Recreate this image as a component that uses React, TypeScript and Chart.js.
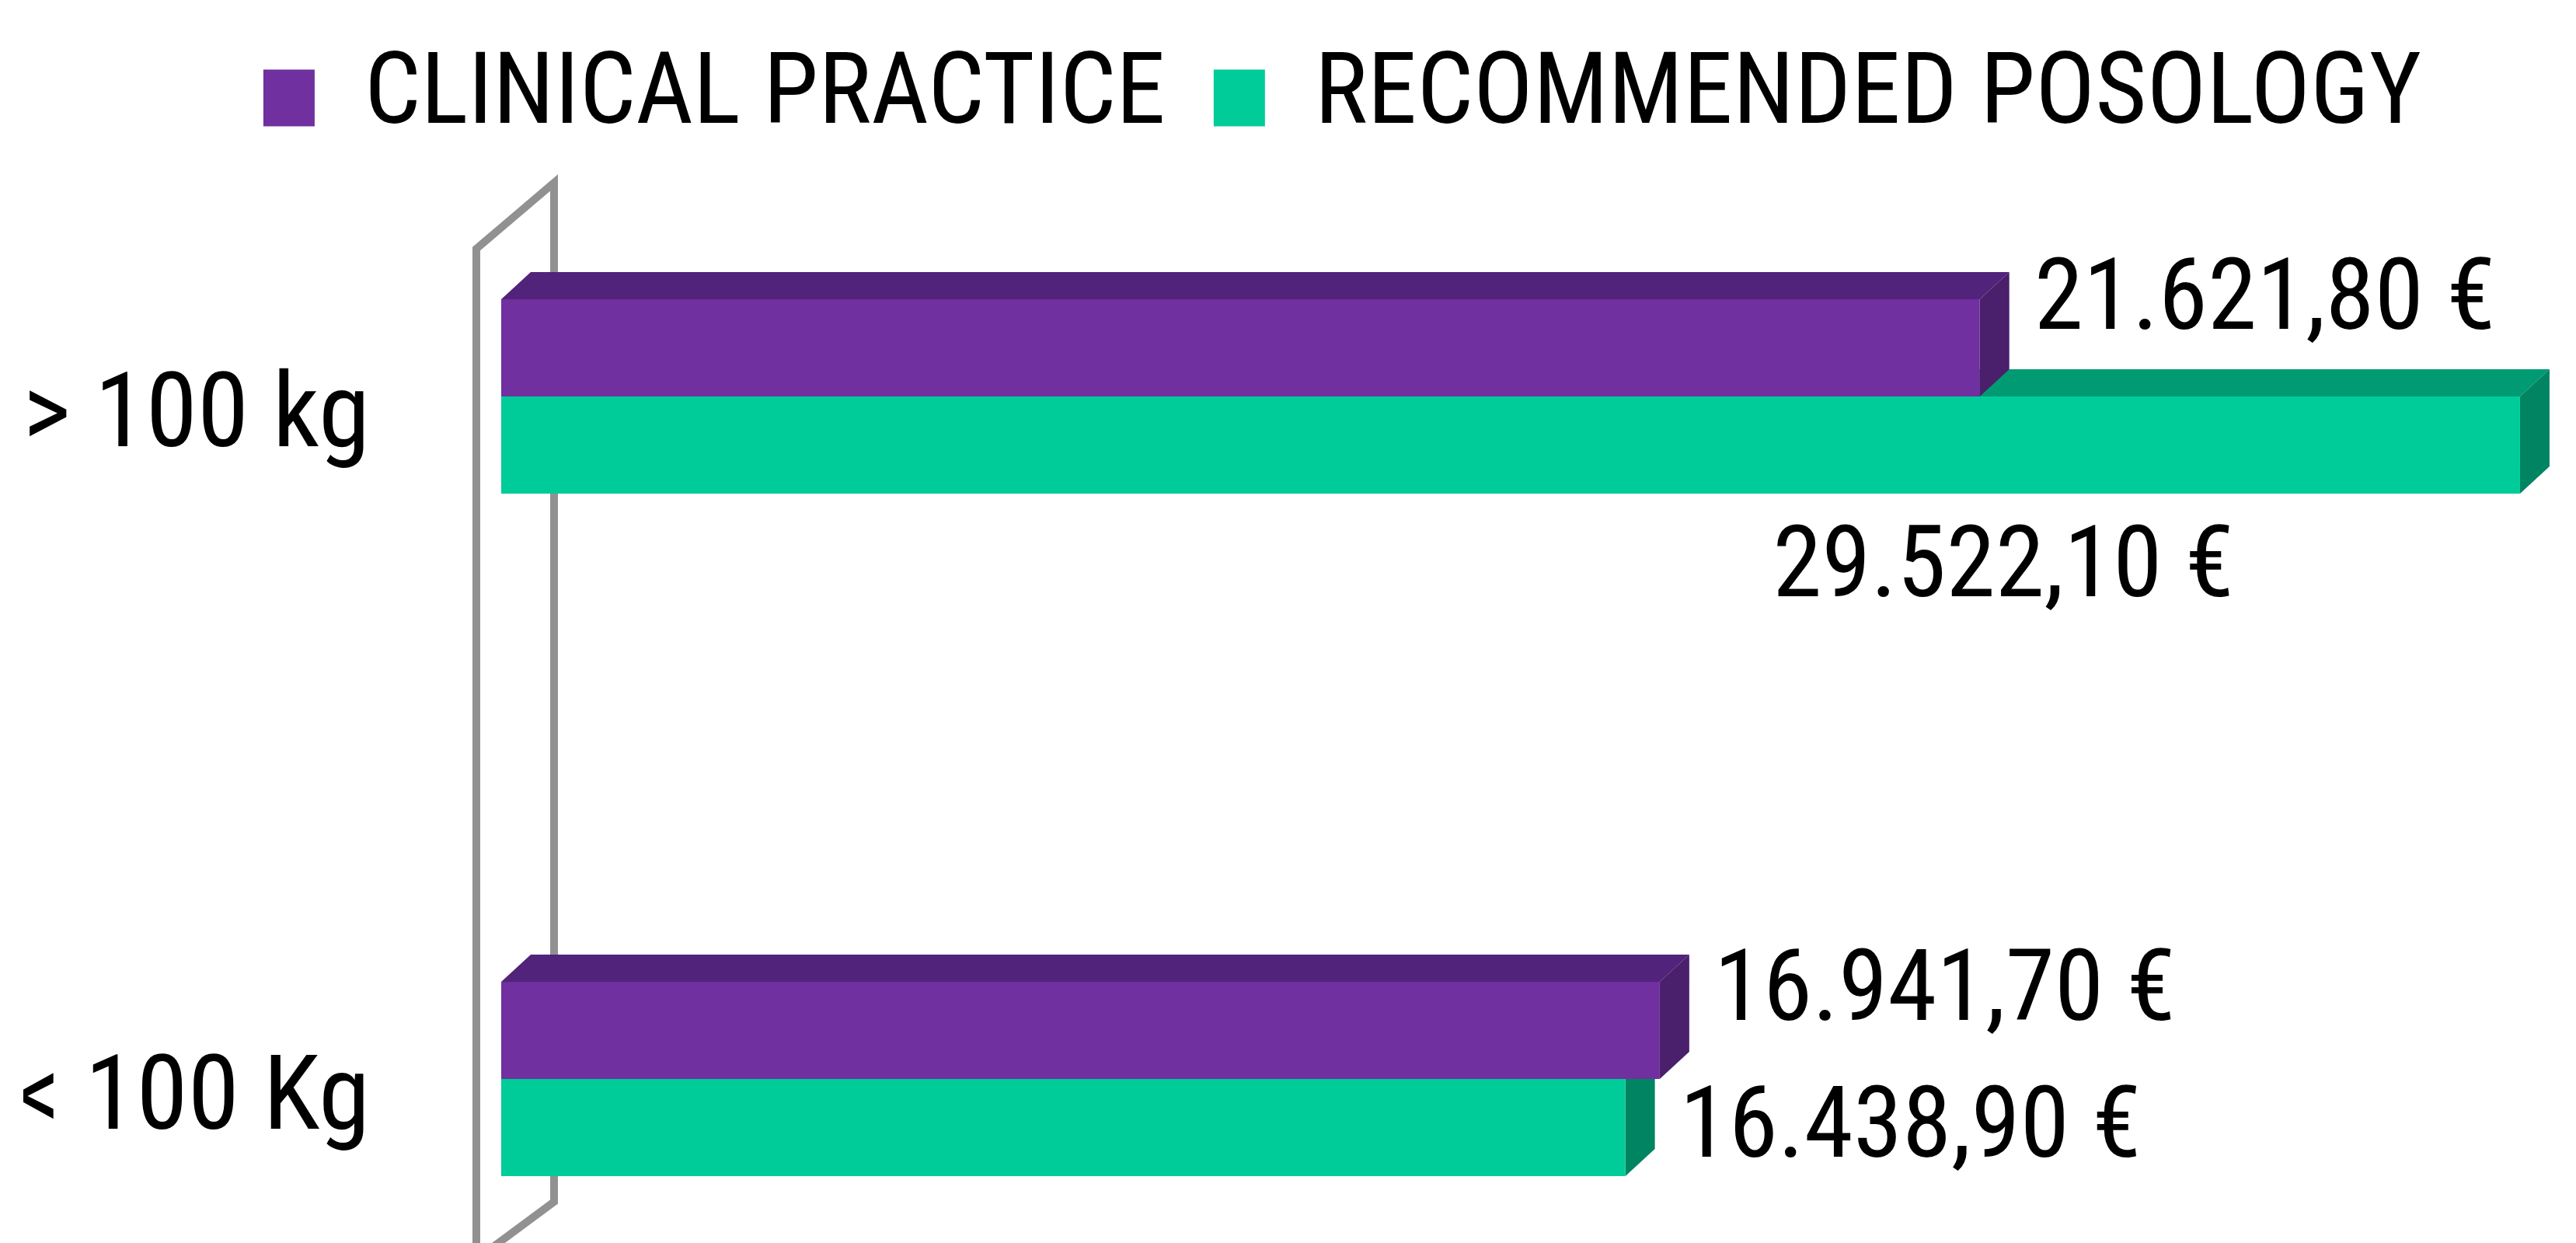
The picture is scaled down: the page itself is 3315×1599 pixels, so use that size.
import React, { useEffect, useRef } from 'react';
import { Chart, registerables } from 'chart.js';

Chart.register(...registerables);

// ---- data ----
const categories = ['> 100 kg', '< 100 Kg'];
const seriesNames = ['CLINICAL PRACTICE', 'RECOMMENDED POSOLOGY'];
const clinicalPractice = [21621.8, 16941.7];
const recommendedPosology = [29522.1, 16438.9];
const xMin = 0;
const xMax = 30000;

// ---- style ----
const FONT = "'Roboto Condensed', 'DejaVu Sans Condensed', sans-serif";
const frontColors = ['#7030A0', '#00CC99'];
const topColors = ['#52237A', '#009B73'];
const sideColors = ['#4A1F6C', '#008462'];
const DX = 38;
const DY = 35;

const W = 3315;
const H = 1599;
const PAD_LEFT = 30;
const PAD_RIGHT = 30;
const AREA_LEFT = 645;
const AREA_TOP = 510;
const AREA_BOTTOM = 1388;
const LEGEND_FONT = 128;
const LEGEND_PAD = 62;
const LEGEND_SHIFT = 70;
const VALUE_FONT = 128;
const TICK_FONT = 134;

function fmt(v: number): string {
  const [i, d] = v.toFixed(2).split('.');
  const g = i.replace(/\B(?=(\d{3})+(?!\d))/g, '.');
  return `${g},${d} €`;
}

const legendShiftPlugin = {
  id: 'legendShift',
  afterLayout(chart: any) {
    if (chart.legend) {
      chart.legend.left += LEGEND_SHIFT;
      chart.legend.right += LEGEND_SHIFT;
    }
  },
};

const wallPlugin = {
  id: 'wall3d',
  beforeDatasetsDraw(chart: any) {
    const { ctx, chartArea } = chart;
    const { left, top, bottom } = chartArea;
    ctx.save();
    ctx.strokeStyle = '#919191';
    ctx.lineWidth = 10;
    ctx.lineJoin = 'miter';
    ctx.beginPath();
    ctx.moveTo(left - 32, bottom + 232);
    ctx.lineTo(left - 32, top - 190);
    ctx.lineTo(left + 68, top - 275);
    ctx.lineTo(left + 68, bottom + 158);
    ctx.closePath();
    ctx.stroke();

    // 3D faces: second series first, then first series
    [1, 0].forEach((di) => {
      const meta = chart.getDatasetMeta(di);
      meta.data.forEach((el: any) => {
        const { x, y, base, height } = el.getProps(['x', 'y', 'base', 'height'], true);
        const t = y - height / 2;
        const b = y + height / 2;
        const x0 = Math.min(base, x);
        const x1 = Math.max(base, x);
        ctx.fillStyle = topColors[di];
        ctx.beginPath();
        ctx.moveTo(x0, t);
        ctx.lineTo(x1, t);
        ctx.lineTo(x1 + DX, t - DY);
        ctx.lineTo(x0 + DX, t - DY);
        ctx.closePath();
        ctx.fill();
        ctx.fillStyle = sideColors[di];
        ctx.beginPath();
        ctx.moveTo(x1, t);
        ctx.lineTo(x1 + DX, t - DY);
        ctx.lineTo(x1 + DX, b - DY);
        ctx.lineTo(x1, b);
        ctx.closePath();
        ctx.fill();
      });
    });
    ctx.restore();
  },
};

const labelPlugin = {
  id: 'valueLabels',
  afterDatasetsDraw(chart: any) {
    const { ctx } = chart;
    ctx.save();
    ctx.font = `${VALUE_FONT}px ${FONT}`;
    ctx.fillStyle = '#000';
    ctx.textBaseline = 'middle';
    chart.data.datasets.forEach((ds: any, di: number) => {
      const meta = chart.getDatasetMeta(di);
      meta.data.forEach((el: any, i: number) => {
        const { x, y, height } = el.getProps(['x', 'y', 'height'], true);
        const text = fmt(ds.data[i]);
        if (di === 1 && i === 0) {
          // longest bar: label placed below the bar
          ctx.textAlign = 'right';
          ctx.fillText(text, x - 368, y + height / 2 + 100);
        } else {
          ctx.textAlign = 'left';
          const shift = di === 0 ? (i === 0 ? -56 : -45) : 5;
          ctx.fillText(text, x + DX + 32, y + shift);
        }
      });
    });
    ctx.restore();
  },
};

export default function App() {
  const ref = useRef<HTMLCanvasElement | null>(null);
  useEffect(() => {
    const canvas = ref.current;
    if (!canvas) return;
    const legendHeight = LEGEND_FONT + LEGEND_PAD + 10;
    const chart = new Chart(canvas, {
      type: 'bar',
      data: {
        labels: categories,
        datasets: [
          {
            label: seriesNames[0],
            data: clinicalPractice,
            backgroundColor: frontColors[0],
            borderWidth: 0,
            barPercentage: 1,
            categoryPercentage: 0.285,
            clip: false,
          },
          {
            label: seriesNames[1],
            data: recommendedPosology,
            backgroundColor: frontColors[1],
            borderWidth: 0,
            barPercentage: 1,
            categoryPercentage: 0.285,
            clip: false,
          },
        ],
      },
      options: {
        indexAxis: 'y',
        responsive: false,
        animation: false,
        events: [],
        layout: {
          padding: { left: PAD_LEFT, right: PAD_RIGHT, top: 0, bottom: H - AREA_BOTTOM },
        },
        plugins: {
          legend: {
            display: true,
            position: 'top',
            labels: {
              boxWidth: 66,
              boxHeight: 73,
              padding: LEGEND_PAD,
              color: '#000',
              font: { family: FONT, size: LEGEND_FONT },
            },
          },
          tooltip: { enabled: false },
        },
        scales: {
          x: {
            type: 'linear',
            position: 'top',
            min: xMin,
            max: xMax,
            grid: { display: false },
            border: { display: false },
            ticks: { display: false },
            afterFit(scale: any) {
              scale.height = AREA_TOP - legendHeight;
              scale.paddingLeft = 0;
              scale.paddingRight = 0;
            },
          },
          y: {
            type: 'category',
            offset: false,
            grid: { display: false },
            border: { display: false },
            ticks: {
              color: '#000',
              padding: 161,
              labelOffset: 30,
              font: { family: FONT, size: TICK_FONT },
            },
            afterFit(scale: any) {
              scale.width = AREA_LEFT - PAD_LEFT;
              scale.paddingTop = 0;
              scale.paddingBottom = 0;
            },
          },
        },
      },
      plugins: [legendShiftPlugin, wallPlugin, labelPlugin],
    });
    return () => chart.destroy();
  }, []);
  return (
    <div style={{ position: 'absolute', left: 0, top: 0, width: W, height: H, background: '#fff' }}>
      <canvas ref={ref} width={W} height={H} style={{ display: 'block' }} />
    </div>
  );
}
